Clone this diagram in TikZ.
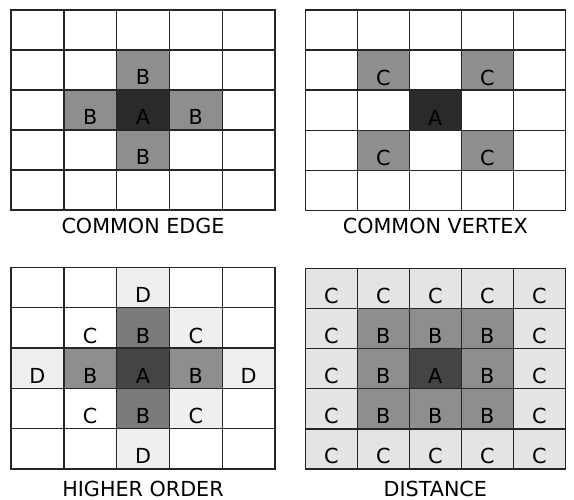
\documentclass[tikz,border=0pt]{standalone}
\usepackage{fontspec}
\setmainfont{DejaVu Sans}
\definecolor{cA}{HTML}{2A2A2A}
\definecolor{cAd}{HTML}{444444}
\definecolor{cB}{HTML}{8E8E8E}
\definecolor{cBd}{HTML}{7A7A7A}
\definecolor{cL}{HTML}{EFEFEF}
\definecolor{cC}{HTML}{E4E4E4}
\tikzset{
  gridline/.style={line width=1.4pt, draw=black!85},
  lbl/.style={anchor=base, inner sep=0pt, font=\fontsize{20.7}{24}\selectfont},
  ttl/.style={anchor=base, inner sep=0pt, font=\fontsize{20.7}{24}\selectfont},
}
\newcommand{\cellF}[3]{\fill[#3] (#1,#2) rectangle ++(1,1);}
\newcommand{\cellL}[4]{\node[lbl] (#4) at (#1+0.5,#2+0.875) {#3};}
\newcommand{\gridG}{%
  \foreach \k in {0,...,5} {
    \draw[gridline] (\k,0) -- (\k,5);
    \draw[gridline] (0,\k) -- (5,\k);
  }%
  \draw[gridline] (0,0) rectangle (5,5);}
\begin{document}
\begin{tikzpicture}[x=1pt,y=-1pt]
\useasboundingbox (0,0) rectangle (574,500);
\fill[white] (0,0) rectangle (574,500);
% ---------- Panel 1: common edge
\begin{scope}[shift={(11,10)}, x=52.8pt, y=-40pt]
  \cellF{2}{1}{cB}\cellF{1}{2}{cB}\cellF{3}{2}{cB}\cellF{2}{3}{cB}\cellF{2}{2}{cA}
  \gridG
  \cellL{2}{1}{B}{p1b1}\cellL{1}{2}{B}{p1b2}\cellL{2}{2}{A}{p1a}\cellL{3}{2}{B}{p1b3}\cellL{2}{3}{B}{p1b4}
\end{scope}
\node[ttl] (t1) at (143,233.5) {COMMON EDGE};
% ---------- Panel 2: common vertex
\begin{scope}[shift={(305.3,10)}, x=52pt, y=-40.1pt]
  \cellF{1}{1}{cB}\cellF{3}{1}{cB}\cellF{1}{3}{cB}\cellF{3}{3}{cB}\cellF{2}{2}{cA}
  \gridG
  \cellL{1}{1}{C}{p2c1}\cellL{3}{1}{C}{p2c2}\cellL{2}{2}{A}{p2a}\cellL{1}{3}{C}{p2c3}\cellL{3}{3}{C}{p2c4}
\end{scope}
\node[ttl] (t2) at (435.3,233.5) {COMMON VERTEX};
% ---------- Panel 3: higher order
\begin{scope}[shift={(11,267.5)}, x=52.8pt, y=-40.3pt]
  \cellF{2}{0}{cL}\cellF{3}{1}{cL}\cellF{0}{2}{cL}\cellF{4}{2}{cL}\cellF{3}{3}{cL}\cellF{2}{4}{cL}
  \cellF{2}{1}{cBd}\cellF{1}{2}{cB}\cellF{3}{2}{cB}\cellF{2}{3}{cBd}\cellF{2}{2}{cAd}
  \gridG
  \cellL{2}{0}{D}{p3d1}\cellL{1}{1}{C}{p3c1}\cellL{2}{1}{B}{p3b1}\cellL{3}{1}{C}{p3c2}
  \cellL{0}{2}{D}{p3d2}\cellL{1}{2}{B}{p3b2}\cellL{2}{2}{A}{p3a}\cellL{3}{2}{B}{p3b3}\cellL{4}{2}{D}{p3d3}
  \cellL{1}{3}{C}{p3c3}\cellL{2}{3}{B}{p3b4}\cellL{3}{3}{C}{p3c4}\cellL{2}{4}{D}{p3d4}
\end{scope}
\node[ttl] (t3) at (143,496) {HIGHER ORDER};
% ---------- Panel 4: distance
\begin{scope}[shift={(305.3,268.3)}, x=52pt, y=-40.14pt]
  \fill[cC] (0,0) rectangle (5,5);
  \fill[cB] (1,1) rectangle (4,4);
  \cellF{2}{2}{cAd}
  \gridG
  \foreach \c in {0,...,4} {
    \node[lbl] (p4t\c) at (\c+0.5,0.875) {C};
    \node[lbl] (p4b\c) at (\c+0.5,4.875) {C};
  }
  \foreach \r in {1,2,3} {
    \node[lbl] (p4l\r) at (0.5,\r+0.875) {C};
    \node[lbl] (p4r\r) at (4.5,\r+0.875) {C};
  }
  \cellL{1}{1}{B}{p4b1x}\cellL{2}{1}{B}{p4b2x}\cellL{3}{1}{B}{p4b3x}
  \cellL{1}{2}{B}{p4b4x}\cellL{2}{2}{A}{p4a}\cellL{3}{2}{B}{p4b5x}
  \cellL{1}{3}{B}{p4b6x}\cellL{2}{3}{B}{p4b7x}\cellL{3}{3}{B}{p4b8x}
\end{scope}
\node[ttl] (t4) at (435.3,496) {DISTANCE};
\end{tikzpicture}
\end{document}
